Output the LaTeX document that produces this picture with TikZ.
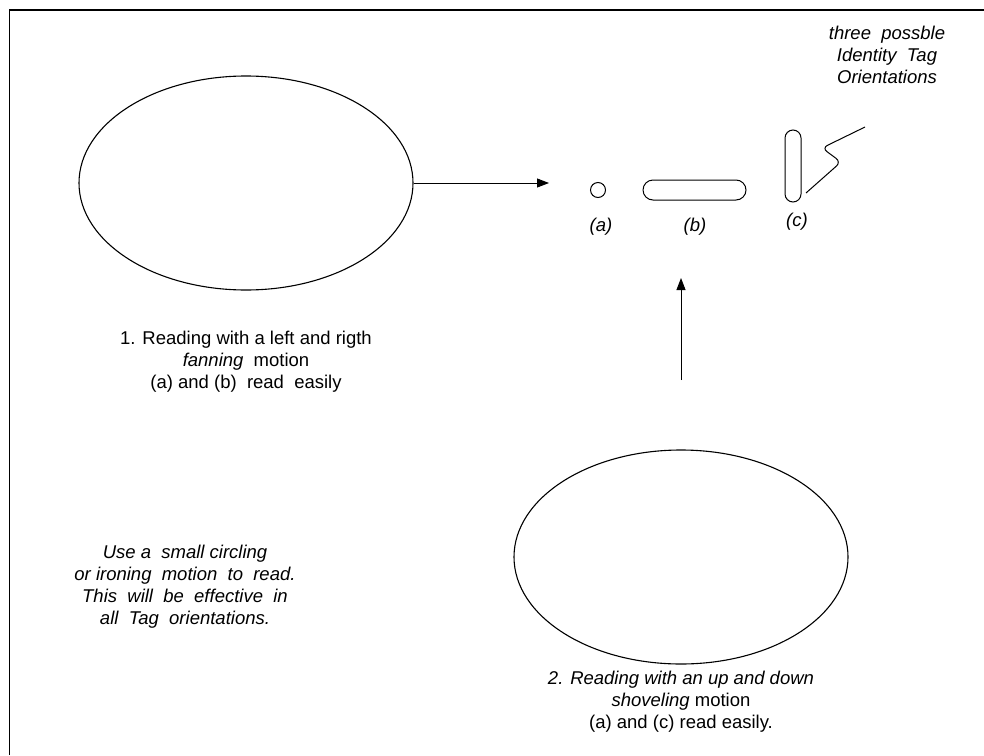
\documentclass[tikz,border=0pt]{standalone}
\usepackage{fontspec}
\setmainfont{Liberation Sans}
\usetikzlibrary{shapes.geometric,arrows.meta}
\tikzstyle{motion}=[draw,ellipse,line width=1.1pt,minimum width=334pt,minimum height=214pt,inner sep=0pt]
\tikzstyle{tagshape}=[draw,rectangle,line width=1pt,inner sep=0pt]
\tikzstyle{readarrow}=[-{Triangle[length=12pt,width=9pt]},line width=0.9pt]
\tikzstyle{caption}=[align=center,inner sep=0pt,font=\fontsize{18.5}{22}\selectfont]

\begin{document}
\begin{tikzpicture}[x=1pt,y=-1pt]
	\useasboundingbox (0,0) rectangle (984,755);
	% frame, cut at the right and the bottom
	\draw[line width=1.2pt] (9.5,755) -- (9.5,10) -- (984,10);

	% the two reading motions
	\node[motion] (fan) at (246,183) {};
	\node[motion] (shovel) at (681,557) {};

	% the three tag orientations
	\node[tagshape,circle,minimum size=15pt] (taga) at (598,190) {};
	\node[tagshape,rounded corners=10pt,minimum width=103pt,minimum height=20pt] (tagb) at (694.5,190) {};
	\node[tagshape,rounded corners=8pt,minimum width=16pt,minimum height=72pt] (tagc) at (793,166) {};
	\node[caption] (labela) at (601,227) {\textit{(a)}};
	\node[caption] (labelb) at (695,227) {\textit{(b)}};
	\node[caption] (labelc) at (797,222) {\textit{(c)}};

	\node[caption] (orient) at (887,55) {\textit{three\ \ possble}\\ \textit{Identity\ \ Tag}\\ \textit{Orientations}};
	\coordinate (squigfoot) at (806,193);
	\coordinate (squigtop) at (865,127);
	\draw[line width=1pt,rounded corners=6pt] (squigfoot) -- (841,162) -- (822,148) -- (squigtop);

	% arrows
	\coordinate (fanend) at (549,183);
	\draw[readarrow] (fan.east) -- (fanend);
	\coordinate (shovelfoot) at (681,380);
	\coordinate (shovelend) at (681,278);
	\draw[readarrow] (shovelfoot) -- (shovelend);

	% captions
	\node[caption] (fantext) at (246,362) {1. Reading with a left and rigth\\ \textit{fanning}\ \ motion\\ (a) and (b)\ \ read\ \ easily};
	\node[caption] (circtext) at (185,587) {\textit{Use a\ \ small circling}\\ \textit{or ironing\ \ motion\ \ to\ \ read.}\\ \textit{This\ \ will\ \ be\ \ effective\ \ in}\\ \textit{all\ \ Tag\ \ orientations.}};
	\node[caption] (shoveltext) at (681,702) {\textit{2. Reading with an up and down}\\ \textit{shoveling} motion\\ (a) and (c) read easily.};
\end{tikzpicture}
\end{document}
